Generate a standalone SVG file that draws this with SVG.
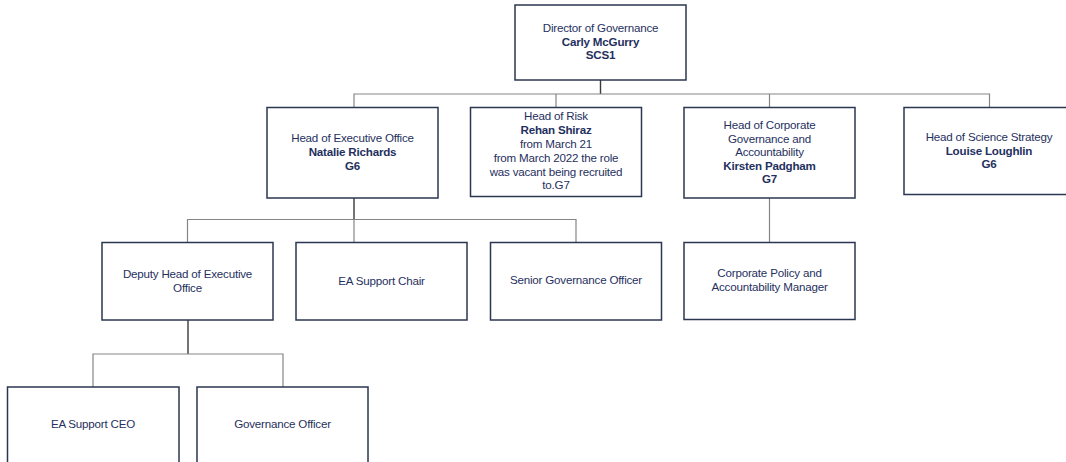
<svg xmlns="http://www.w3.org/2000/svg" width="1066" height="462" viewBox="0 0 1066 462">
  <style>
    .box { fill: #ffffff; stroke: #2b3650; stroke-width: 1.5; }
    .conn { fill: none; stroke: #858585; stroke-width: 1.2; }
    .conn-dark { fill: none; stroke: #3a3a3a; stroke-width: 1.4; }
    text { font-family: "Liberation Sans", Arial, sans-serif; font-size: 11.6px; fill: #1f3060; text-anchor: middle; letter-spacing: -0.2px; }
    .b { font-weight: bold; }
  </style>
  <rect width="1066" height="462" fill="#ffffff"/>

  <!-- reporting lines -->
  <g id="connectors">
    <line class="conn-dark" x1="600.5" y1="80" x2="600.5" y2="94"/>
    <polyline class="conn" points="354,107.5 354,94 989.5,94 989.5,107.5"/>
    <line class="conn" x1="556" y1="94" x2="556" y2="107.5"/>
    <line class="conn" x1="769.5" y1="94" x2="769.5" y2="107.5"/>
    <line class="conn-dark" x1="354" y1="198" x2="354" y2="219.5"/>
    <polyline class="conn" points="187.5,242.5 187.5,219.5 576,219.5 576,242.5"/>
    <line class="conn" x1="354" y1="219.5" x2="354" y2="242.5"/>
    <line class="conn" x1="769.5" y1="198" x2="769.5" y2="242.5"/>
    <line class="conn-dark" x1="188" y1="320" x2="188" y2="354"/>
    <polyline class="conn" points="93,387 93,354 283,354 283,387"/>
  </g>

  <g id="director">
    <rect class="box" x="515" y="5" width="171" height="75"/>
    <text x="600.5" y="32">Director of Governance</text>
    <text class="b" x="600.5" y="46">Carly McGurry</text>
    <text class="b" x="600.5" y="59">SCS1</text>
  </g>

  <g id="head-executive-office">
    <rect class="box" x="267" y="107.5" width="171" height="90.5"/>
    <text x="352.5" y="142">Head of Executive Office</text>
    <text class="b" x="352.5" y="156">Natalie Richards</text>
    <text class="b" x="352.5" y="170">G6</text>
  </g>

  <g id="head-risk">
    <rect class="box" x="470.5" y="107.5" width="171" height="89"/>
    <text x="556" y="120">Head of Risk</text>
    <text class="b" x="556" y="134">Rehan Shiraz</text>
    <text x="556" y="147.5">from March 21</text>
    <text x="556" y="161.5">from March 2022 the role</text>
    <text x="556" y="175.5">was vacant being recruited</text>
    <text x="556" y="188.5">to.G7</text>
  </g>

  <g id="head-corporate-governance">
    <rect class="box" x="684" y="107.5" width="171" height="90.5"/>
    <text x="769.5" y="129">Head of Corporate</text>
    <text x="769.5" y="142.5">Governance and</text>
    <text x="769.5" y="156">Accountability</text>
    <text class="b" x="769.5" y="169.5">Kirsten Padgham</text>
    <text class="b" x="769.5" y="183">G7</text>
  </g>

  <g id="head-science-strategy">
    <rect class="box" x="904" y="107.5" width="171" height="87"/>
    <text x="989" y="141">Head of Science Strategy</text>
    <text class="b" x="989" y="154.5">Louise Loughlin</text>
    <text class="b" x="989" y="168">G6</text>
  </g>

  <g id="deputy-head-executive-office">
    <rect class="box" x="102" y="242.5" width="171" height="77.5"/>
    <text x="187.5" y="278">Deputy Head of Executive</text>
    <text x="187.5" y="291.5">Office</text>
  </g>

  <g id="ea-support-chair">
    <rect class="box" x="296" y="242.5" width="171" height="77.5"/>
    <text x="381.5" y="285">EA Support Chair</text>
  </g>

  <g id="senior-governance-officer">
    <rect class="box" x="490.5" y="242.5" width="171" height="77.5"/>
    <text x="576" y="283.5">Senior Governance Officer</text>
  </g>

  <g id="corporate-policy-manager">
    <rect class="box" x="684" y="242.5" width="171" height="77"/>
    <text x="769.5" y="277">Corporate Policy and</text>
    <text x="769.5" y="290.5">Accountability Manager</text>
  </g>

  <g id="ea-support-ceo">
    <rect class="box" x="7.5" y="387" width="171.5" height="90"/>
    <text x="93" y="428">EA Support CEO</text>
  </g>

  <g id="governance-officer">
    <rect class="box" x="197" y="387" width="171" height="90"/>
    <text x="282.5" y="428">Governance Officer</text>
  </g>
</svg>
